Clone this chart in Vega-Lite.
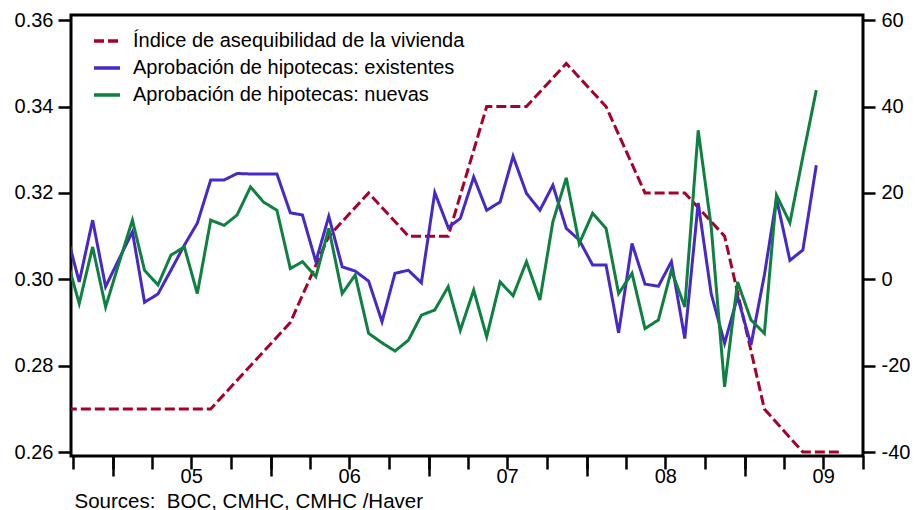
{
  "$schema": "https://vega.github.io/schema/vega-lite/v6.json",
  "width": 792,
  "height": 441,
  "autosize": {"type": "none"},
  "padding": {"left": 71, "top": 15, "right": 55, "bottom": 54},
  "background": "white",
  "config": {
    "view": {"stroke": "black", "strokeWidth": 3},
    "font": "Liberation Sans",
    "axis": {"labelColor": "black", "labelFont": "Liberation Sans", "tickColor": "black", "titleColor": "black"},
    "legend": {
      "orient": "none",
      "legendX": 21,
      "legendY": 11,
      "symbolType": "stroke",
      "symbolSize": 676,
      "symbolStrokeWidth": 3.5,
      "labelFont": "Liberation Sans",
      "labelFontSize": 20,
      "labelColor": "black",
      "labelOffset": 11,
      "rowPadding": 2,
      "labelLimit": 600
    }
  },
  "datasets": {
    "quarterly": [
      {"date": "2004-08-15", "series": "Índice de asequibilidad de la vivienda", "value": 0.27},
      {"date": "2004-11-15", "series": "Índice de asequibilidad de la vivienda", "value": 0.27},
      {"date": "2005-02-15", "series": "Índice de asequibilidad de la vivienda", "value": 0.27},
      {"date": "2005-05-15", "series": "Índice de asequibilidad de la vivienda", "value": 0.27},
      {"date": "2005-08-15", "series": "Índice de asequibilidad de la vivienda", "value": 0.27},
      {"date": "2005-11-15", "series": "Índice de asequibilidad de la vivienda", "value": 0.28},
      {"date": "2006-02-15", "series": "Índice de asequibilidad de la vivienda", "value": 0.29},
      {"date": "2006-05-15", "series": "Índice de asequibilidad de la vivienda", "value": 0.31},
      {"date": "2006-08-15", "series": "Índice de asequibilidad de la vivienda", "value": 0.32},
      {"date": "2006-11-15", "series": "Índice de asequibilidad de la vivienda", "value": 0.31},
      {"date": "2007-02-15", "series": "Índice de asequibilidad de la vivienda", "value": 0.31},
      {"date": "2007-05-15", "series": "Índice de asequibilidad de la vivienda", "value": 0.34},
      {"date": "2007-08-15", "series": "Índice de asequibilidad de la vivienda", "value": 0.34},
      {"date": "2007-11-15", "series": "Índice de asequibilidad de la vivienda", "value": 0.35},
      {"date": "2008-02-15", "series": "Índice de asequibilidad de la vivienda", "value": 0.34},
      {"date": "2008-05-15", "series": "Índice de asequibilidad de la vivienda", "value": 0.32},
      {"date": "2008-08-15", "series": "Índice de asequibilidad de la vivienda", "value": 0.32},
      {"date": "2008-11-15", "series": "Índice de asequibilidad de la vivienda", "value": 0.31},
      {"date": "2009-02-15", "series": "Índice de asequibilidad de la vivienda", "value": 0.27},
      {"date": "2009-05-15", "series": "Índice de asequibilidad de la vivienda", "value": 0.26},
      {"date": "2009-08-15", "series": "Índice de asequibilidad de la vivienda", "value": 0.26}
    ],
    "monthly": [
      {"date": "2004-09-15", "series": "Aprobación de hipotecas: existentes", "value": 10.9},
      {"date": "2004-10-15", "series": "Aprobación de hipotecas: existentes", "value": -0.6},
      {"date": "2004-11-15", "series": "Aprobación de hipotecas: existentes", "value": 13.7},
      {"date": "2004-12-15", "series": "Aprobación de hipotecas: existentes", "value": -1.7},
      {"date": "2005-01-15", "series": "Aprobación de hipotecas: existentes", "value": 4.7},
      {"date": "2005-02-15", "series": "Aprobación de hipotecas: existentes", "value": 11.0},
      {"date": "2005-03-15", "series": "Aprobación de hipotecas: existentes", "value": -5.3},
      {"date": "2005-04-15", "series": "Aprobación de hipotecas: existentes", "value": -3.4},
      {"date": "2005-05-15", "series": "Aprobación de hipotecas: existentes", "value": 2.1},
      {"date": "2005-06-15", "series": "Aprobación de hipotecas: existentes", "value": 7.9},
      {"date": "2005-07-15", "series": "Aprobación de hipotecas: existentes", "value": 13.0},
      {"date": "2005-08-15", "series": "Aprobación de hipotecas: existentes", "value": 23.0},
      {"date": "2005-09-15", "series": "Aprobación de hipotecas: existentes", "value": 23.0},
      {"date": "2005-10-15", "series": "Aprobación de hipotecas: existentes", "value": 24.5},
      {"date": "2005-11-15", "series": "Aprobación de hipotecas: existentes", "value": 24.4},
      {"date": "2005-12-15", "series": "Aprobación de hipotecas: existentes", "value": 24.4},
      {"date": "2006-01-15", "series": "Aprobación de hipotecas: existentes", "value": 24.4},
      {"date": "2006-02-15", "series": "Aprobación de hipotecas: existentes", "value": 15.4},
      {"date": "2006-03-15", "series": "Aprobación de hipotecas: existentes", "value": 14.9},
      {"date": "2006-04-15", "series": "Aprobación de hipotecas: existentes", "value": 4.1},
      {"date": "2006-05-15", "series": "Aprobación de hipotecas: existentes", "value": 14.6},
      {"date": "2006-06-15", "series": "Aprobación de hipotecas: existentes", "value": 2.9},
      {"date": "2006-07-15", "series": "Aprobación de hipotecas: existentes", "value": 1.9},
      {"date": "2006-08-15", "series": "Aprobación de hipotecas: existentes", "value": -0.4},
      {"date": "2006-09-15", "series": "Aprobación de hipotecas: existentes", "value": -9.8},
      {"date": "2006-10-15", "series": "Aprobación de hipotecas: existentes", "value": 1.4},
      {"date": "2006-11-15", "series": "Aprobación de hipotecas: existentes", "value": 2.1},
      {"date": "2006-12-15", "series": "Aprobación de hipotecas: existentes", "value": -0.8},
      {"date": "2007-01-15", "series": "Aprobación de hipotecas: existentes", "value": 20.1},
      {"date": "2007-02-15", "series": "Aprobación de hipotecas: existentes", "value": 12.0},
      {"date": "2007-03-15", "series": "Aprobación de hipotecas: existentes", "value": 14.1},
      {"date": "2007-04-15", "series": "Aprobación de hipotecas: existentes", "value": 23.7},
      {"date": "2007-05-15", "series": "Aprobación de hipotecas: existentes", "value": 16.0},
      {"date": "2007-06-15", "series": "Aprobación de hipotecas: existentes", "value": 17.9},
      {"date": "2007-07-15", "series": "Aprobación de hipotecas: existentes", "value": 28.5},
      {"date": "2007-08-15", "series": "Aprobación de hipotecas: existentes", "value": 19.9},
      {"date": "2007-09-15", "series": "Aprobación de hipotecas: existentes", "value": 16.0},
      {"date": "2007-10-15", "series": "Aprobación de hipotecas: existentes", "value": 21.8},
      {"date": "2007-11-15", "series": "Aprobación de hipotecas: existentes", "value": 11.8},
      {"date": "2007-12-15", "series": "Aprobación de hipotecas: existentes", "value": 9.1},
      {"date": "2008-01-15", "series": "Aprobación de hipotecas: existentes", "value": 3.3},
      {"date": "2008-02-15", "series": "Aprobación de hipotecas: existentes", "value": 3.3},
      {"date": "2008-03-15", "series": "Aprobación de hipotecas: existentes", "value": -12.4},
      {"date": "2008-04-15", "series": "Aprobación de hipotecas: existentes", "value": 8.3},
      {"date": "2008-05-15", "series": "Aprobación de hipotecas: existentes", "value": -1.1},
      {"date": "2008-06-15", "series": "Aprobación de hipotecas: existentes", "value": -1.6},
      {"date": "2008-07-15", "series": "Aprobación de hipotecas: existentes", "value": 4.1},
      {"date": "2008-08-15", "series": "Aprobación de hipotecas: existentes", "value": -13.7},
      {"date": "2008-09-15", "series": "Aprobación de hipotecas: existentes", "value": 17.7},
      {"date": "2008-10-15", "series": "Aprobación de hipotecas: existentes", "value": -3.3},
      {"date": "2008-11-15", "series": "Aprobación de hipotecas: existentes", "value": -14.8},
      {"date": "2008-12-15", "series": "Aprobación de hipotecas: existentes", "value": -4.0},
      {"date": "2009-01-15", "series": "Aprobación de hipotecas: existentes", "value": -15.2},
      {"date": "2009-02-15", "series": "Aprobación de hipotecas: existentes", "value": 1.0},
      {"date": "2009-03-15", "series": "Aprobación de hipotecas: existentes", "value": 18.7},
      {"date": "2009-04-15", "series": "Aprobación de hipotecas: existentes", "value": 4.4},
      {"date": "2009-05-15", "series": "Aprobación de hipotecas: existentes", "value": 6.8},
      {"date": "2009-06-15", "series": "Aprobación de hipotecas: existentes", "value": 26.4},
      {"date": "2004-09-15", "series": "Aprobación de hipotecas: nuevas", "value": 5.1},
      {"date": "2004-10-15", "series": "Aprobación de hipotecas: nuevas", "value": -5.6},
      {"date": "2004-11-15", "series": "Aprobación de hipotecas: nuevas", "value": 7.5},
      {"date": "2004-12-15", "series": "Aprobación de hipotecas: nuevas", "value": -6.4},
      {"date": "2005-01-15", "series": "Aprobación de hipotecas: nuevas", "value": 3.8},
      {"date": "2005-02-15", "series": "Aprobación de hipotecas: nuevas", "value": 13.7},
      {"date": "2005-03-15", "series": "Aprobación de hipotecas: nuevas", "value": 2.1},
      {"date": "2005-04-15", "series": "Aprobación de hipotecas: nuevas", "value": -1.3},
      {"date": "2005-05-15", "series": "Aprobación de hipotecas: nuevas", "value": 5.6},
      {"date": "2005-06-15", "series": "Aprobación de hipotecas: nuevas", "value": 7.5},
      {"date": "2005-07-15", "series": "Aprobación de hipotecas: nuevas", "value": -3.3},
      {"date": "2005-08-15", "series": "Aprobación de hipotecas: nuevas", "value": 13.7},
      {"date": "2005-09-15", "series": "Aprobación de hipotecas: nuevas", "value": 12.5},
      {"date": "2005-10-15", "series": "Aprobación de hipotecas: nuevas", "value": 14.9},
      {"date": "2005-11-15", "series": "Aprobación de hipotecas: nuevas", "value": 21.4},
      {"date": "2005-12-15", "series": "Aprobación de hipotecas: nuevas", "value": 17.9},
      {"date": "2006-01-15", "series": "Aprobación de hipotecas: nuevas", "value": 16.0},
      {"date": "2006-02-15", "series": "Aprobación de hipotecas: nuevas", "value": 2.5},
      {"date": "2006-03-15", "series": "Aprobación de hipotecas: nuevas", "value": 4.1},
      {"date": "2006-04-15", "series": "Aprobación de hipotecas: nuevas", "value": 0.6},
      {"date": "2006-05-15", "series": "Aprobación de hipotecas: nuevas", "value": 11.8},
      {"date": "2006-06-15", "series": "Aprobación de hipotecas: nuevas", "value": -3.3},
      {"date": "2006-07-15", "series": "Aprobación de hipotecas: nuevas", "value": 1.0},
      {"date": "2006-08-15", "series": "Aprobación de hipotecas: nuevas", "value": -12.5},
      {"date": "2006-09-15", "series": "Aprobación de hipotecas: nuevas", "value": -14.7},
      {"date": "2006-10-15", "series": "Aprobación de hipotecas: nuevas", "value": -16.6},
      {"date": "2006-11-15", "series": "Aprobación de hipotecas: nuevas", "value": -14.1},
      {"date": "2006-12-15", "series": "Aprobación de hipotecas: nuevas", "value": -8.3},
      {"date": "2007-01-15", "series": "Aprobación de hipotecas: nuevas", "value": -7.1},
      {"date": "2007-02-15", "series": "Aprobación de hipotecas: nuevas", "value": -1.7},
      {"date": "2007-03-15", "series": "Aprobación de hipotecas: nuevas", "value": -11.8},
      {"date": "2007-04-15", "series": "Aprobación de hipotecas: nuevas", "value": -2.5},
      {"date": "2007-05-15", "series": "Aprobación de hipotecas: nuevas", "value": -13.3},
      {"date": "2007-06-15", "series": "Aprobación de hipotecas: nuevas", "value": -0.6},
      {"date": "2007-07-15", "series": "Aprobación de hipotecas: nuevas", "value": -3.8},
      {"date": "2007-08-15", "series": "Aprobación de hipotecas: nuevas", "value": 4.1},
      {"date": "2007-09-15", "series": "Aprobación de hipotecas: nuevas", "value": -4.8},
      {"date": "2007-10-15", "series": "Aprobación de hipotecas: nuevas", "value": 13.3},
      {"date": "2007-11-15", "series": "Aprobación de hipotecas: nuevas", "value": 23.5},
      {"date": "2007-12-15", "series": "Aprobación de hipotecas: nuevas", "value": 8.3},
      {"date": "2008-01-15", "series": "Aprobación de hipotecas: nuevas", "value": 15.3},
      {"date": "2008-02-15", "series": "Aprobación de hipotecas: nuevas", "value": 11.8},
      {"date": "2008-03-15", "series": "Aprobación de hipotecas: nuevas", "value": -3.3},
      {"date": "2008-04-15", "series": "Aprobación de hipotecas: nuevas", "value": 1.4},
      {"date": "2008-05-15", "series": "Aprobación de hipotecas: nuevas", "value": -11.4},
      {"date": "2008-06-15", "series": "Aprobación de hipotecas: nuevas", "value": -9.4},
      {"date": "2008-07-15", "series": "Aprobación de hipotecas: nuevas", "value": 2.1},
      {"date": "2008-08-15", "series": "Aprobación de hipotecas: nuevas", "value": -6.4},
      {"date": "2008-09-15", "series": "Aprobación de hipotecas: nuevas", "value": 34.5},
      {"date": "2008-10-15", "series": "Aprobación de hipotecas: nuevas", "value": 12.2},
      {"date": "2008-11-15", "series": "Aprobación de hipotecas: nuevas", "value": -24.9},
      {"date": "2008-12-15", "series": "Aprobación de hipotecas: nuevas", "value": -0.6},
      {"date": "2009-01-15", "series": "Aprobación de hipotecas: nuevas", "value": -9.4},
      {"date": "2009-02-15", "series": "Aprobación de hipotecas: nuevas", "value": -12.5},
      {"date": "2009-03-15", "series": "Aprobación de hipotecas: nuevas", "value": 19.5},
      {"date": "2009-04-15", "series": "Aprobación de hipotecas: nuevas", "value": 13.1},
      {"date": "2009-05-15", "series": "Aprobación de hipotecas: nuevas", "value": 28.4},
      {"date": "2009-06-15", "series": "Aprobación de hipotecas: nuevas", "value": 43.8}
    ]
  },
  "layer": [
    {
      "data": {"name": "quarterly"},
      "mark": {"type": "line", "strokeWidth": 3, "clip": true},
      "encoding": {
        "x": {
          "field": "date", "type": "temporal",
          "scale": {"type": "utc", "domain": [{"year": 2004, "month": 9, "date": 26, "utc": true}, {"year": 2009, "month": 10, "date": 1, "utc": true}]},
          "axis": {
            "orient": "bottom",
            "values": [
              {"year": 2004, "month": 10, "date": 1, "utc": true},
              {"year": 2005, "month": 1, "date": 1, "utc": true},
              {"year": 2005, "month": 4, "date": 1, "utc": true},
              {"year": 2005, "month": 7, "date": 1, "utc": true},
              {"year": 2005, "month": 10, "date": 1, "utc": true},
              {"year": 2006, "month": 1, "date": 1, "utc": true},
              {"year": 2006, "month": 4, "date": 1, "utc": true},
              {"year": 2006, "month": 7, "date": 1, "utc": true},
              {"year": 2006, "month": 10, "date": 1, "utc": true},
              {"year": 2007, "month": 1, "date": 1, "utc": true},
              {"year": 2007, "month": 4, "date": 1, "utc": true},
              {"year": 2007, "month": 7, "date": 1, "utc": true},
              {"year": 2007, "month": 10, "date": 1, "utc": true},
              {"year": 2008, "month": 1, "date": 1, "utc": true},
              {"year": 2008, "month": 4, "date": 1, "utc": true},
              {"year": 2008, "month": 7, "date": 1, "utc": true},
              {"year": 2008, "month": 10, "date": 1, "utc": true},
              {"year": 2009, "month": 1, "date": 1, "utc": true},
              {"year": 2009, "month": 4, "date": 1, "utc": true},
              {"year": 2009, "month": 7, "date": 1, "utc": true},
              {"year": 2009, "month": 10, "date": 1, "utc": true}
            ],
            "tickSize": 13,
            "tickWidth": 2.5,
            "domain": false,
            "grid": false,
            "labelExpr": "utcmonth(datum.value) == 6 ? utcFormat(datum.value, '%y') : ''",
            "labelFontSize": 20,
            "labelPadding": -3,
            "labelOverlap": false,
            "labelFlush": false,
            "labelBound": false,
            "title": "Sources:\u00a0 BOC, CMHC, CMHC /Haver",
            "titleX": 3,
            "titleY": 51,
            "titleAlign": "left",
            "titleAnchor": "start",
            "titleBaseline": "alphabetic",
            "titleFont": "Liberation Sans",
            "titleFontWeight": "normal",
            "titleFontSize": 20.5
          }
        },
        "y": {
          "field": "value", "type": "quantitative",
          "scale": {"domain": [0.2591, 0.3612], "nice": false, "zero": false},
          "axis": {
            "orient": "left",
            "values": [0.26, 0.28, 0.30, 0.32, 0.34, 0.36],
            "format": ".2f",
            "tickSize": 13,
            "tickWidth": 2.5,
            "domain": false,
            "grid": false,
            "labelFontSize": 20,
            "labelPadding": 5,
            "title": null
          }
        },
        "color": {
          "field": "series", "type": "nominal",
          "scale": {
            "domain": ["Índice de asequibilidad de la vivienda", "Aprobación de hipotecas: existentes", "Aprobación de hipotecas: nuevas"],
            "range": ["#A8002C", "#4828C8", "#0E8040"]
          },
          "legend": {"title": null}
        },
        "strokeDash": {
          "field": "series", "type": "nominal",
          "scale": {
            "domain": ["Índice de asequibilidad de la vivienda", "Aprobación de hipotecas: existentes", "Aprobación de hipotecas: nuevas"],
            "range": [[10, 4], [1, 0], [1, 0]]
          },
          "legend": {"title": null}
        }
      }
    },
    {
      "data": {"name": "monthly"},
      "mark": {"type": "line", "strokeWidth": 3, "clip": true},
      "encoding": {
        "x": {
          "field": "date", "type": "temporal",
          "axis": {
            "orient": "bottom",
            "values": [
              {"year": 2005, "month": 1, "date": 1, "utc": true},
              {"year": 2006, "month": 1, "date": 1, "utc": true},
              {"year": 2007, "month": 1, "date": 1, "utc": true},
              {"year": 2008, "month": 1, "date": 1, "utc": true},
              {"year": 2009, "month": 1, "date": 1, "utc": true}
            ],
            "tickSize": 20,
            "tickWidth": 2.5,
            "domain": false,
            "grid": false,
            "labels": false,
            "title": null
          }
        },
        "y": {
          "field": "value", "type": "quantitative",
          "scale": {"domain": [-40.9, 61.2], "nice": false, "zero": false},
          "axis": {
            "orient": "right",
            "values": [-40, -20, 0, 20, 40, 60],
            "labelExpr": "datum.value < 0 ? '-' + abs(datum.value) : '' + datum.value",
            "tickSize": 12,
            "tickWidth": 2.5,
            "domain": false,
            "grid": false,
            "labelFontSize": 20,
            "labelPadding": 6,
            "title": null
          }
        },
        "color": {"field": "series", "type": "nominal", "legend": {"title": null}},
        "strokeDash": {"field": "series", "type": "nominal", "legend": {"title": null}}
      }
    }
  ],
  "resolve": {"scale": {"y": "independent"}, "axis": {"x": "independent"}}
}
